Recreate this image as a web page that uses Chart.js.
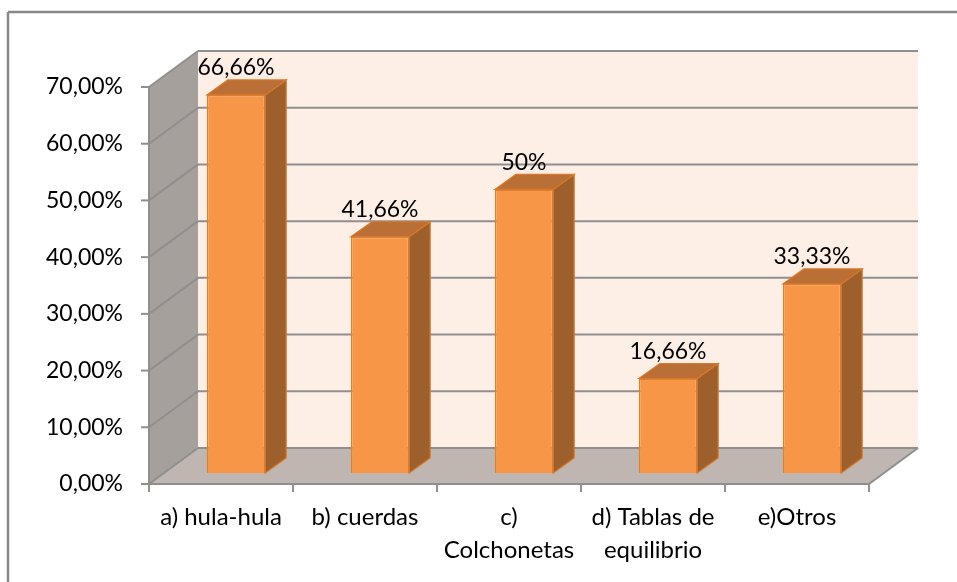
<!DOCTYPE html>
<html>
<head>
<meta charset="utf-8">
<script src="https://cdn.jsdelivr.net/npm/chart.js@4.4.0/dist/chart.umd.min.js"></script>
<style>
    html, body { margin: 0; padding: 0; background: #fff; }
    canvas { display: block; }
</style>
</head>
<body>
<canvas id="grafico" width="957" height="582"></canvas>
<script>
const categorias = ['a) hula-hula', 'b) cuerdas', ['c)', 'Colchonetas'], ['d) Tablas de', 'equilibrio'], 'e)Otros'];
const porcentajes = [66.66, 41.66, 50, 16.66, 33.33];
const ticksY = [0, 10, 20, 30, 40, 50, 60, 70];

// desplazamientos del efecto 3D, medidos desde el plano de las barras
const frente = { dx: -15, dy: 11 };
const fondo = { dx: 34, dy: -25 };
const prof = { dx: 21, dy: -15 };

const fuente = { family: 'Lato', size: 23 };
const gris = '#8f8f8f';

function formato(v) {
    return Number.isInteger(v) ? v + '%' : v.toFixed(2).replace('.', ',') + '%';
}

function poligono(ctx, pts, relleno) {
    ctx.beginPath();
    ctx.moveTo(pts[0][0], pts[0][1]);
    for (let i = 1; i < pts.length; i++) ctx.lineTo(pts[i][0], pts[i][1]);
    ctx.closePath();
    ctx.fillStyle = relleno;
    ctx.fill();
}

function linea(ctx, x1, y1, x2, y2) {
    ctx.beginPath();
    ctx.moveTo(x1, y1);
    ctx.lineTo(x2, y2);
    ctx.stroke();
}

const efecto3d = {
    id: 'efecto3d',
    beforeDraw(chart) {
        const ctx = chart.ctx;
        ctx.save();
        ctx.strokeStyle = '#888';
        ctx.lineWidth = 2.5;
        linea(ctx, 8, 12, 960, 12);
        linea(ctx, 8, 12, 8, 590);
        ctx.restore();
    },
    beforeDatasetsDraw(chart) {
        const ctx = chart.ctx;
        const sx = chart.scales.x, sy = chart.scales.y;
        const L = sx.left, R = sx.right;
        const B = sy.getPixelForValue(ticksY[0]);
        const T = sy.getPixelForValue(ticksY[ticksY.length - 1]);
        ctx.save();
        // pared trasera
        poligono(ctx, [[L + fondo.dx, T + fondo.dy], [R + fondo.dx, T + fondo.dy],
            [R + fondo.dx, B + fondo.dy], [L + fondo.dx, B + fondo.dy]], '#fdeee6');
        // pared lateral
        poligono(ctx, [[L + frente.dx, B + frente.dy], [L + frente.dx, T + frente.dy],
            [L + fondo.dx, T + fondo.dy], [L + fondo.dx, B + fondo.dy]], '#a6a09c');
        // piso
        poligono(ctx, [[L + frente.dx, B + frente.dy], [R + frente.dx, B + frente.dy],
            [R + fondo.dx, B + fondo.dy], [L + fondo.dx, B + fondo.dy]], '#c0b6b1');

        ctx.strokeStyle = gris;
        ctx.lineWidth = 2;
        ticksY.forEach(v => {
            const py = sy.getPixelForValue(v);
            linea(ctx, L + frente.dx, py + frente.dy, L + fondo.dx, py + fondo.dy);
            linea(ctx, L + fondo.dx, py + fondo.dy, R + fondo.dx, py + fondo.dy);
            // marca del eje
            linea(ctx, L + frente.dx - 8, py + frente.dy, L + frente.dx, py + frente.dy);
        });
        // ejes frontales
        linea(ctx, L + frente.dx, T + frente.dy, L + frente.dx, B + frente.dy);
        linea(ctx, L + frente.dx, B + frente.dy, R + frente.dx, B + frente.dy);
        linea(ctx, R + frente.dx, B + frente.dy, R + fondo.dx, B + fondo.dy);
        for (let i = 0; i <= categorias.length; i++) {
            const px = L + (R - L) * i / categorias.length + frente.dx;
            linea(ctx, px, B + frente.dy, px, B + frente.dy + 8);
        }
        ctx.restore();
    },
    afterDatasetsDraw(chart) {
        const ctx = chart.ctx;
        const meta = chart.getDatasetMeta(0);
        ctx.save();
        meta.data.forEach((bar, i) => {
            const izq = bar.x - bar.width / 2, der = bar.x + bar.width / 2;
            ctx.strokeStyle = '#d9782a';
            ctx.lineWidth = 1.2;
            // cara lateral
            poligono(ctx, [[der, bar.y], [der + prof.dx, bar.y + prof.dy],
                [der + prof.dx, bar.base + prof.dy], [der, bar.base]], '#9d602d');
            ctx.stroke();
            // cara superior
            poligono(ctx, [[izq, bar.y], [izq + prof.dx, bar.y + prof.dy],
                [der + prof.dx, bar.y + prof.dy], [der, bar.y]], '#b96f36');
            ctx.stroke();

            ctx.fillStyle = '#000';
            ctx.font = fuente.size + 'px ' + fuente.family;
            ctx.textAlign = 'center';
            ctx.textBaseline = 'middle';
            ctx.fillText(formato(porcentajes[i]), bar.x, bar.y - 27);
        });
        ctx.restore();
    }
};

new Chart(document.getElementById('grafico'), {
    type: 'bar',
    data: {
        labels: categorias,
        datasets: [{
            data: porcentajes,
            backgroundColor: '#f79646',
            borderColor: '#e0802f',
            borderWidth: 1.5,
            categoryPercentage: 1,
            barPercentage: 0.405
        }]
    },
    options: {
        responsive: false,
        animation: false,
        layout: {
            padding: { top: 76, right: 73, left: 0, bottom: 0 }
        },
        plugins: {
            legend: { display: false },
            tooltip: { enabled: false }
        },
        scales: {
            y: {
                min: 0,
                max: 70,
                grid: { display: false, drawTicks: false },
                border: { display: false },
                afterFit: function(scale) { scale.width = 164; },
                ticks: {
                    stepSize: 10,
                    padding: 41,
                    labelOffset: 11,
                    color: '#000',
                    font: fuente,
                    callback: function(value) {
                        return value.toFixed(2).replace('.', ',') + '%';
                    }
                }
            },
            x: {
                grid: { display: false, drawTicks: false },
                border: { display: false },
                afterFit: function(scale) { scale.height = 109; },
                ticks: {
                    padding: 28,
                    labelOffset: -15,
                    maxRotation: 0,
                    autoSkip: false,
                    color: '#000',
                    font: { family: 'Lato', size: 24, lineHeight: 1.375 }
                }
            }
        }
    },
    plugins: [efecto3d]
});
</script>
</body>
</html>
